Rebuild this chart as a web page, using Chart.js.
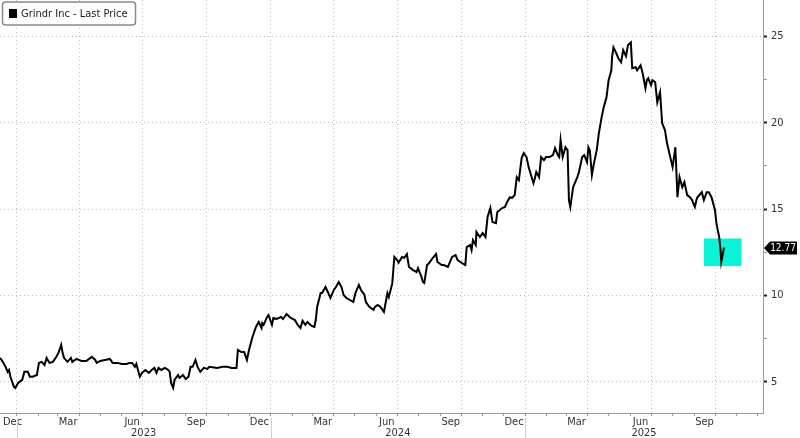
<!DOCTYPE html>
<html>
<head>
<meta charset="utf-8">
<script src="https://cdn.jsdelivr.net/npm/chart.js@4.4.1/dist/chart.umd.min.js"></script>
<style>
  html, body { margin: 0; padding: 0; background: #fff; }
  #wrap { width: 800px; height: 438px; }
</style>
</head>
<body>
<div id="wrap"><canvas id="chart" width="800" height="438"></canvas></div>
<script>
(function () {
  'use strict';

  // series
  var seriesLabel = 'Grindr Inc - Last Price';
  var lastPrice = 12.77;
  var dates = [
    '2022-12-08', '2022-12-12', '2022-12-16', '2022-12-19', '2022-12-21', '2022-12-23', '2022-12-28', '2022-12-30',
    '2023-01-03', '2023-01-09', '2023-01-12', '2023-01-17', '2023-01-20', '2023-01-24', '2023-01-30',
    '2023-02-02', '2023-02-06', '2023-02-10', '2023-02-13', '2023-02-17', '2023-02-22', '2023-02-27',
    '2023-03-02', '2023-03-06', '2023-03-08', '2023-03-10', '2023-03-15', '2023-03-20', '2023-03-22', '2023-03-28',
    '2023-04-04', '2023-04-11', '2023-04-19', '2023-04-24', '2023-04-26',
    '2023-05-01', '2023-05-08', '2023-05-15', '2023-05-19', '2023-05-26',
    '2023-06-01', '2023-06-08', '2023-06-12', '2023-06-16', '2023-06-20', '2023-06-22', '2023-06-27', '2023-06-30',
    '2023-07-05', '2023-07-10', '2023-07-14', '2023-07-18', '2023-07-21', '2023-07-24', '2023-07-28',
    '2023-08-02', '2023-08-07', '2023-08-09', '2023-08-11', '2023-08-14', '2023-08-16', '2023-08-21', '2023-08-23', '2023-08-28',
    '2023-09-01', '2023-09-05', '2023-09-08', '2023-09-11', '2023-09-15', '2023-09-18', '2023-09-22', '2023-09-27',
    '2023-10-02', '2023-10-05', '2023-10-16', '2023-10-24', '2023-10-31',
    '2023-11-06', '2023-11-13', '2023-11-15', '2023-11-20', '2023-11-24', '2023-11-28',
    '2023-12-01', '2023-12-06', '2023-12-08', '2023-12-11', '2023-12-15', '2023-12-19', '2023-12-20', '2023-12-22', '2023-12-27', '2023-12-29',
    '2024-01-03', '2024-01-05', '2024-01-10', '2024-01-16', '2024-01-19', '2024-01-24', '2024-01-30',
    '2024-02-05', '2024-02-09', '2024-02-13', '2024-02-16', '2024-02-20', '2024-02-23', '2024-02-29',
    '2024-03-04', '2024-03-06', '2024-03-08', '2024-03-13', '2024-03-15', '2024-03-20', '2024-03-22', '2024-03-27',
    '2024-04-01', '2024-04-04', '2024-04-08', '2024-04-12', '2024-04-15', '2024-04-19', '2024-04-24', '2024-04-29',
    '2024-05-02', '2024-05-07', '2024-05-10', '2024-05-15', '2024-05-17', '2024-05-22', '2024-05-28', '2024-05-30',
    '2024-06-03', '2024-06-07', '2024-06-12', '2024-06-17', '2024-06-19', '2024-06-24', '2024-06-27',
    '2024-07-01', '2024-07-03', '2024-07-08', '2024-07-11', '2024-07-15', '2024-07-18', '2024-07-24', '2024-07-29', '2024-07-31',
    '2024-08-05', '2024-08-07', '2024-08-09', '2024-08-13', '2024-08-16', '2024-08-21', '2024-08-26', '2024-08-28',
    '2024-09-03', '2024-09-06', '2024-09-12', '2024-09-18', '2024-09-23', '2024-09-26',
    '2024-10-02', '2024-10-07', '2024-10-09', '2024-10-14', '2024-10-16', '2024-10-18', '2024-10-22', '2024-10-23', '2024-10-28',
    '2024-11-01', '2024-11-05', '2024-11-08', '2024-11-12', '2024-11-15', '2024-11-20', '2024-11-22', '2024-11-29',
    '2024-12-03', '2024-12-06', '2024-12-10', '2024-12-13', '2024-12-17', '2024-12-20', '2024-12-23', '2024-12-27', '2024-12-30',
    '2025-01-03', '2025-01-06', '2025-01-13', '2025-01-15', '2025-01-17', '2025-01-21', '2025-01-24', '2025-01-28', '2025-01-31',
    '2025-02-05', '2025-02-10', '2025-02-13', '2025-02-17', '2025-02-19', '2025-02-21', '2025-02-24', '2025-02-28',
    '2025-03-03', '2025-03-05', '2025-03-07', '2025-03-11', '2025-03-14', '2025-03-17', '2025-03-19', '2025-03-24', '2025-03-27', '2025-03-31',
    '2025-04-02', '2025-04-04', '2025-04-07', '2025-04-10', '2025-04-14', '2025-04-17', '2025-04-21', '2025-04-24', '2025-04-28',
    '2025-05-01', '2025-05-05', '2025-05-06', '2025-05-08', '2025-05-12', '2025-05-15', '2025-05-19', '2025-05-22', '2025-05-26', '2025-05-29',
    '2025-06-02', '2025-06-04', '2025-06-09', '2025-06-11', '2025-06-16', '2025-06-19', '2025-06-23', '2025-06-25', '2025-06-27',
    '2025-07-01', '2025-07-03', '2025-07-07', '2025-07-10', '2025-07-14', '2025-07-17', '2025-07-21', '2025-07-24', '2025-07-29',
    '2025-08-01', '2025-08-05', '2025-08-08', '2025-08-11', '2025-08-15', '2025-08-18', '2025-08-22', '2025-08-26', '2025-08-29',
    '2025-09-02', '2025-09-05', '2025-09-12', '2025-09-15', '2025-09-19', '2025-09-22', '2025-09-26',
    '2025-10-01', '2025-10-03', '2025-10-07', '2025-10-09', '2025-10-10', '2025-10-14'
  ];
  var prices = [
    6.39, 6.16, 5.87, 5.58, 5.69, 5.30, 4.71, 4.65,
    4.94, 5.12, 5.58, 5.58, 5.30, 5.30, 5.40,
    6.10, 6.16, 5.98, 6.39, 6.10, 6.16, 6.45,
    6.68, 7.14, 6.68, 6.39, 6.16, 6.39, 6.16, 6.33,
    6.21, 6.21, 6.45, 6.27, 6.10,
    6.21, 6.27, 6.33, 6.10, 6.10,
    6.04, 6.04, 6.10, 6.10, 5.87, 6.04, 5.30, 5.52,
    5.69, 5.52, 5.69, 5.81, 5.52, 5.81, 5.69,
    5.81, 5.69, 5.58, 4.94, 4.65, 5.12, 5.40, 5.23, 5.40,
    5.17, 5.30, 5.87, 5.87, 6.27, 5.87, 5.58, 5.81,
    5.75, 5.87, 5.81, 5.87, 5.87,
    5.81, 5.81, 6.85, 6.73, 6.73, 6.27,
    6.85, 7.60, 7.83, 8.18, 8.47, 8.12, 8.41, 8.30, 8.76, 8.87,
    8.30, 8.70, 8.64, 8.76, 8.64, 8.93, 8.70,
    8.58, 8.30, 8.12, 8.53, 8.30, 8.47, 8.24,
    8.18, 8.58, 9.34, 10.14, 10.14, 10.49, 10.32, 9.86,
    10.32, 10.49, 10.78, 10.49, 10.03, 9.86, 9.74, 9.62,
    10.14, 10.61, 10.32, 10.03, 9.62, 9.34, 9.16, 9.34,
    9.45, 9.34, 9.05, 10.14, 9.91, 10.70, 12.23,
    12.05, 11.90, 12.23, 12.17, 12.40, 11.65, 11.47, 11.36, 11.59,
    11.07, 10.78, 10.72, 11.76, 11.88, 12.17, 12.40, 11.94,
    11.76, 11.76, 11.65, 12.23, 12.34, 12.05,
    11.88, 11.76, 12.80, 12.92, 12.63, 13.21, 12.92, 13.67, 13.38,
    13.61, 13.38, 14.54, 15.06, 14.25, 14.19, 14.83, 15.06,
    15.12, 15.40, 15.69, 15.64, 15.81, 16.85, 16.68, 17.95, 18.24,
    18.01, 17.43, 16.50, 16.79, 17.14, 16.85, 18.01, 17.83, 18.01,
    18.01, 18.12, 18.53, 18.12, 18.01, 18.99, 18.01, 18.58,
    18.41, 15.52, 15.12, 16.27, 16.56, 16.85, 17.08, 18.01, 18.12, 17.72,
    18.58, 18.41, 16.97, 17.66, 18.41, 19.39, 20.32, 20.90, 21.47,
    22.46, 23.03, 23.79, 24.36, 24.02, 23.73, 23.50, 24.20, 23.85, 24.50,
    24.65, 23.15, 23.21, 23.03, 23.32, 22.86, 21.99, 22.46, 22.57,
    22.17, 22.46, 22.34, 21.18, 21.76, 19.97, 19.57, 18.82, 17.95,
    17.43, 18.58, 15.69, 16.85, 16.27, 16.56, 15.81, 15.69, 15.52,
    15.12, 15.64, 15.98, 15.52, 15.98, 15.98, 15.69,
    14.94, 14.19, 13.38, 12.63, 11.94, 12.77
  ];

  // axes
  var xStart = '2022-12-08';
  var xEnd = '2025-12-09';
  var yMin = 3.2;
  var yMax = 27.1;
  var yMajorTicks = [5, 10, 15, 20, 25];
  var yMinorTicks = [7.5, 12.5, 17.5, 22.5];
  var monthNames = ['Jan', 'Feb', 'Mar', 'Apr', 'May', 'Jun', 'Jul', 'Aug', 'Sep', 'Oct', 'Nov', 'Dec'];
  var shownMonths = ['Mar', 'Jun', 'Sep', 'Dec'];
  var yearLabels = ['2023', '2024', '2025'];

  // highlight box
  var boxFrom = '2025-09-15';
  var boxTo = '2025-11-08';
  var boxLow = 11.7;
  var boxHigh = 13.3;

  var FONT = "'DejaVu Sans Condensed', 'Liberation Sans Narrow', 'DejaVu Sans', sans-serif";
  var BASE = Date.UTC(2023, 0, 1);

  function toDay(s) {
    var p = s.split('-');
    return (Date.UTC(+p[0], +p[1] - 1, +p[2]) - BASE) / 86400000;
  }
  function ymdDay(y, m, d) {
    return (Date.UTC(y, m, d) - BASE) / 86400000;
  }

  var xMin = toDay(xStart);
  var xMax = toDay(xEnd);

  var points = [];
  for (var i = 0; i < dates.length; i++) {
    points.push({ x: toDay(dates[i]), y: prices[i] });
  }

  // month start ticks, gridline on quarter starts
  var monthTicks = [];
  for (var yy = 2022; yy <= 2025; yy++) {
    for (var mm = 0; mm < 12; mm++) {
      var d = ymdDay(yy, mm, 1);
      if (d >= xMin && d <= xMax) {
        monthTicks.push({ value: d, quarter: mm % 3 === 0 });
      }
    }
  }

  function isMajor(c) {
    return c.tick && yMajorTicks.indexOf(c.tick.value) >= 0;
  }

  var overlay = {
    id: 'overlay',
    beforeDatasetsDraw: function (chart) {
      var ctx = chart.ctx;
      var xs = chart.scales.x;
      var ys = chart.scales.y;
      var x0 = xs.getPixelForValue(toDay(boxFrom));
      var x1 = xs.getPixelForValue(toDay(boxTo));
      var y0 = ys.getPixelForValue(boxHigh);
      var y1 = ys.getPixelForValue(boxLow);
      ctx.save();
      ctx.fillStyle = '#0cf2d6';
      ctx.fillRect(x0, y0, x1 - x0, y1 - y0);
      ctx.restore();
    },
    afterDraw: function (chart) {
      var ctx = chart.ctx;
      var xs = chart.scales.x;
      var ys = chart.scales.y;
      ctx.save();

      // month + year labels
      ctx.font = '11px ' + FONT;
      ctx.fillStyle = '#333';
      ctx.textAlign = 'center';
      ctx.textBaseline = 'middle';
      for (var y = 2022; y <= 2025; y++) {
        for (var k = 0; k < shownMonths.length; k++) {
          var m = monthNames.indexOf(shownMonths[k]);
          var cx = xs.getPixelForValue(ymdDay(y, m, 16));
          if (cx < xs.left - 10 || cx > xs.right) continue;
          var w = ctx.measureText(shownMonths[k]).width;
          if (cx - w / 2 < xs.left + 3) cx = xs.left + 3 + w / 2;
          ctx.fillText(shownMonths[k], cx, xs.top + 9);
        }
      }
      ctx.strokeStyle = '#cfcfcf';
      ctx.lineWidth = 1;
      for (var j = 0; j < yearLabels.length; j++) {
        var yr = +yearLabels[j];
        var a = xs.getPixelForValue(ymdDay(yr, 0, 1));
        var b = Math.min(xs.right, xs.getPixelForValue(ymdDay(yr + 1, 0, 1)));
        ctx.beginPath();
        ctx.moveTo(Math.round(a) + 0.5, xs.top + 5);
        ctx.lineTo(Math.round(a) + 0.5, chart.height);
        ctx.stroke();
        ctx.fillText(yearLabels[j], (a + b) / 2, xs.top + 20);
      }

      // legend box
      ctx.fillStyle = '#fff';
      ctx.strokeStyle = '#8a8a8a';
      ctx.lineWidth = 1.5;
      ctx.beginPath();
      ctx.roundRect(2.5, 2, 133, 23, 3);
      ctx.fill();
      ctx.stroke();
      ctx.fillStyle = '#000';
      ctx.fillRect(9, 9, 8, 9);
      ctx.fillStyle = '#222';
      ctx.textAlign = 'left';
      ctx.fillText(chart.data.datasets[0].label, 21, 14);

      // last price tag
      var py = Math.round(ys.getPixelForValue(lastPrice));
      var tx = ys.left + 1;
      ctx.fillStyle = '#000';
      ctx.beginPath();
      ctx.moveTo(tx, py);
      ctx.lineTo(tx + 6, py - 6.5);
      ctx.lineTo(797, py - 6.5);
      ctx.lineTo(797, py + 6.5);
      ctx.lineTo(tx + 6, py + 6.5);
      ctx.closePath();
      ctx.fill();
      ctx.fillStyle = '#fff';
      ctx.textAlign = 'center';
      ctx.font = '10px ' + FONT;
      ctx.fillText(lastPrice.toFixed(2), (tx + 5 + 797) / 2, py + 0.5);
      ctx.restore();
    }
  };

  new Chart(document.getElementById('chart'), {
    type: 'line',
    data: {
      datasets: [{
        label: seriesLabel,
        data: points,
        borderColor: '#000',
        borderWidth: 2,
        pointRadius: 0,
        tension: 0,
        fill: false
      }]
    },
    options: {
      responsive: false,
      animation: false,
      layout: { padding: 0, autoPadding: false },
      plugins: {
        legend: { display: false },
        tooltip: { enabled: false }
      },
      scales: {
        x: {
          type: 'linear',
          min: xMin,
          max: xMax,
          afterBuildTicks: function (scale) {
            scale.ticks = monthTicks.map(function (t) { return { value: t.value, quarter: t.quarter }; });
          },
          afterFit: function (scale) {
            scale.height = 25;
            scale.paddingLeft = 0;
            scale.paddingRight = 0;
          },
          ticks: { display: false },
          grid: {
            color: function (c) { return c.tick && c.tick.quarter ? '#bdbdbd' : 'rgba(0,0,0,0)'; },
            tickColor: '#9a9a9a',
            tickLength: 3,
            lineWidth: 1
          },
          border: { color: '#9a9a9a', width: 1, dash: [1, 3] }
        },
        y: {
          position: 'right',
          min: yMin,
          max: yMax,
          afterBuildTicks: function (scale) {
            scale.ticks = yMajorTicks.concat(yMinorTicks).sort(function (a, b) { return a - b; })
              .map(function (v) { return { value: v }; });
          },
          afterFit: function (scale) {
            scale.width = 37;
            scale.paddingTop = 0;
            scale.paddingBottom = 0;
          },
          ticks: {
            color: '#333',
            padding: 4,
            font: { family: FONT, size: 11 },
            callback: function (v) { return yMajorTicks.indexOf(v) >= 0 ? String(v) : ''; }
          },
          grid: {
            color: function (c) { return isMajor(c) ? '#bdbdbd' : 'rgba(0,0,0,0)'; },
            tickColor: function (c) { return isMajor(c) ? '#222' : '#9a9a9a'; },
            tickWidth: function (c) { return isMajor(c) ? 2 : 1; },
            tickLength: 4,
            lineWidth: 1
          },
          border: { color: '#9a9a9a', width: 1, dash: [1, 3] }
        }
      }
    },
    plugins: [overlay]
  });
}());
</script>
</body>
</html>
